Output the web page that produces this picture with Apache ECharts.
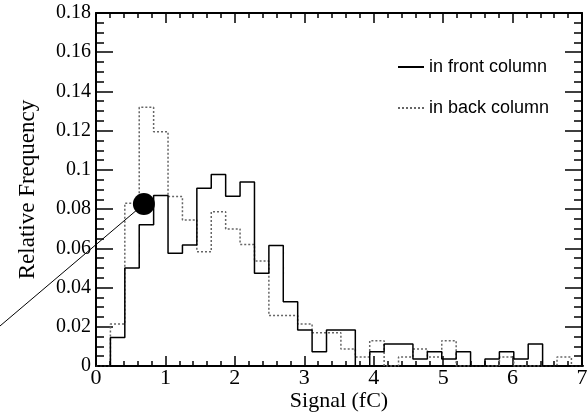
<!DOCTYPE html>
<html>
<head>
<meta charset="utf-8">
<script src="https://cdn.jsdelivr.net/npm/echarts@6/dist/echarts.min.js"></script>
<style>
html,body{margin:0;padding:0;background:#fff;}
#chart{width:587px;height:413px;}
</style>
</head>
<body>
<div id="chart"></div>
<script>
// Bin edges (fC)
var binEdges = [0, 0.2075, 0.415, 0.6225, 0.83, 1.0375, 1.245, 1.4525, 1.66, 1.8675, 2.075,
  2.2825, 2.49, 2.6975, 2.905, 3.1125, 3.32, 3.5275, 3.735, 3.9425, 4.15, 4.3575, 4.565,
  4.7725, 4.98, 5.1875, 5.395, 5.6025, 5.81, 6.0175, 6.225, 6.4325, 6.64, 6.8475, 7.055];
// Relative frequency per bin
var frontColumn = [0, 0.0145, 0.050, 0.072, 0.087, 0.0575, 0.0617, 0.0906, 0.0977, 0.0865,
  0.0938, 0.0473, 0.0615, 0.0328, 0.0184, 0.0073, 0.0184, 0.0184, 0, 0.0073, 0.0112, 0.0112,
  0.0036, 0.0073, 0.0036, 0.0073, 0, 0.0036, 0.0073, 0.0036, 0.0112, 0, 0, 0];
var backColumn = [0, 0.0214, 0.083, 0.1319, 0.1195, 0.0864, 0.0745, 0.0583, 0.0787, 0.0699,
  0.062, 0.0535, 0.0257, 0.0257, 0.0214, 0.017, 0.017, 0.0087, 0.0046, 0.0129, 0, 0.0046,
  0.0087, 0.0046, 0.0129, 0, 0, 0, 0.0046, 0, 0, 0, 0.0046, 0];
// Annotation: marker point and the pointer line end (data coordinates)
var markerPoint = [0.69, 0.0826];
var pointerEnd = [-1.383, 0.0204];
var seriesNames = ['in front column', 'in back column'];
var xTicks = [0, 1, 2, 3, 4, 5, 6, 7];
var yTicks = [0, 0.02, 0.04, 0.06, 0.08, 0.1, 0.12, 0.14, 0.16, 0.18];

function histPoints(vals) {
  var pts = [];
  for (var i = 0; i < vals.length; i++) pts.push([binEdges[i], vals[i]]);
  pts.push([binEdges[vals.length], vals[vals.length - 1]]);
  return pts;
}

var serif = 'Liberation Serif';
var axisLineStyle = {color: '#000', width: 2};
function xAxisDef(pos, showLabel) {
  return {
    type: 'value', position: pos, min: xTicks[0], max: xTicks[xTicks.length - 1], interval: 1,
    axisLine: {show: true, onZero: false, lineStyle: axisLineStyle},
    axisTick: {show: true, inside: true, length: 10, lineStyle: {color: '#000', width: 1.5}},
    minorTick: {show: true, splitNumber: 5, length: 5, lineStyle: {color: '#000', width: 1.5}},
    splitLine: {show: false},
    axisLabel: {show: showLabel, margin: 1, color: '#000', fontFamily: serif, fontSize: 22},
    name: showLabel ? 'Signal (fC)' : '', nameLocation: 'middle', nameGap: 24,
    nameMoveOverlap: false,
    nameTextStyle: {color: '#000', fontFamily: serif, fontSize: 22}
  };
}
function yAxisDef(pos, showLabel) {
  return {
    type: 'value', position: pos, min: yTicks[0], max: yTicks[yTicks.length - 1], interval: 0.02,
    axisLine: {show: true, onZero: false, lineStyle: axisLineStyle},
    axisTick: {show: true, inside: true, length: 17, lineStyle: {color: '#000', width: 1.5}},
    minorTick: {show: true, splitNumber: 4, length: 8, lineStyle: {color: '#000', width: 1.5}},
    splitLine: {show: false},
    axisLabel: {show: showLabel, margin: 5, color: '#000', fontFamily: serif, fontSize: 20},
    name: showLabel ? 'Relative Frequency' : '', nameLocation: 'middle', nameGap: 57,
    nameMoveOverlap: false,
    nameRotate: 90,
    nameTextStyle: {color: '#000', fontFamily: serif, fontSize: 23}
  };
}

var chart = echarts.init(document.getElementById('chart'), null, {renderer: 'canvas'});
chart.setOption({
  animation: false,
  backgroundColor: '#fff',
  grid: {left: 96, right: 5, top: 13, bottom: 47, containLabel: false, outerBoundsMode: 'none'},
  xAxis: [xAxisDef('bottom', true), xAxisDef('top', false)],
  yAxis: [yAxisDef('left', true), yAxisDef('right', false)],
  legend: {
    orient: 'vertical', left: 392, top: 52, padding: 5, itemWidth: 26, itemHeight: 14, itemGap: 21,
    itemStyle: {opacity: 0},
    textStyle: {color: '#000', fontFamily: 'Liberation Sans', fontSize: 18, lineHeight: 20},
    data: seriesNames
  },
  series: [
    {
      name: seriesNames[0], type: 'line', step: 'end', symbol: 'none', showSymbol: false,
      data: histPoints(frontColumn),
      lineStyle: {color: '#000', width: 1.5, type: 'solid'}, itemStyle: {color: '#000'}, z: 3
    },
    {
      name: seriesNames[1], type: 'line', step: 'end', symbol: 'none', showSymbol: false,
      data: histPoints(backColumn),
      lineStyle: {color: '#666', width: 1.5, type: [2, 2]}, itemStyle: {color: '#666'}, z: 2
    },
    {
      name: 'pointer', type: 'custom', clip: false, silent: true, z: 4,
      data: [[pointerEnd[0], pointerEnd[1], markerPoint[0], markerPoint[1]]],
      encode: {x: [0, 2], y: [1, 3]},
      renderItem: function (params, api) {
        var p1 = api.coord([api.value(0), api.value(1)]);
        var p2 = api.coord([api.value(2), api.value(3)]);
        return {
          type: 'line',
          shape: {x1: p1[0], y1: p1[1], x2: p2[0], y2: p2[1]},
          style: {stroke: '#000', lineWidth: 1}
        };
      }
    },
    {
      name: 'marker', type: 'scatter', symbol: 'circle', symbolSize: 22, clip: false,
      data: [markerPoint], itemStyle: {color: '#000', opacity: 1}, z: 5
    }
  ]
});
</script>
</body>
</html>
